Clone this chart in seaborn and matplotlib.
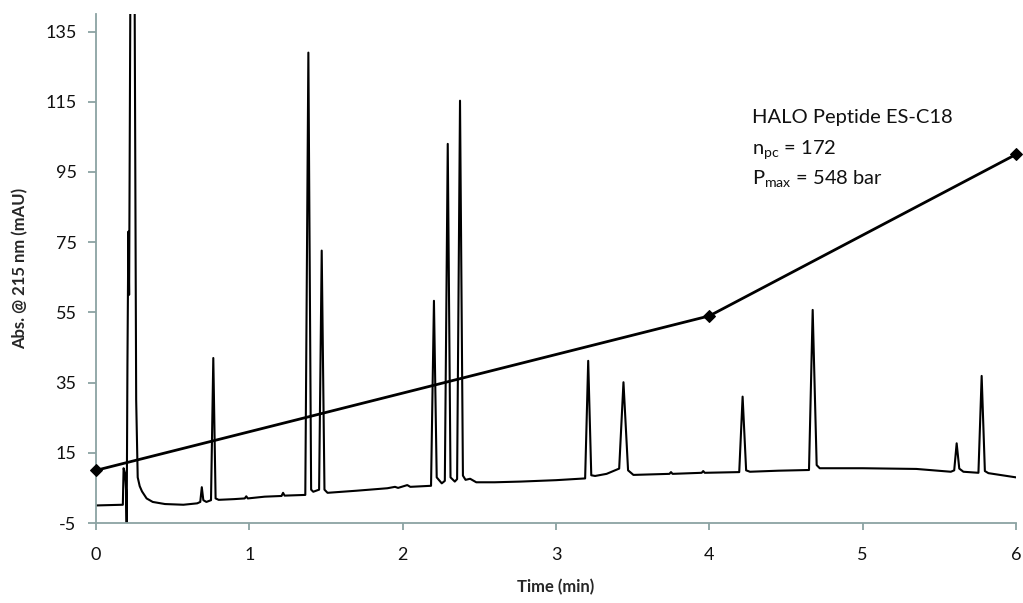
import matplotlib
matplotlib.use("Agg")
import matplotlib.pyplot as plt
import seaborn as sns
import pandas as pd

# ---- chromatogram trace (time in min, absorbance in mAU) ----
trace_time = [
    0.000, 0.175, 0.180, 0.190, 0.196, 0.200, 0.205, 0.211, 0.216, 0.224,
    0.252, 0.262, 0.272, 0.285, 0.300, 0.330, 0.370, 0.450, 0.570, 0.660,
    0.680, 0.690, 0.700, 0.720, 0.750, 0.765, 0.780, 0.800, 0.900, 0.970,
    0.980, 0.990, 1.100, 1.210, 1.220, 1.230, 1.365, 1.385, 1.403, 1.417,
    1.455, 1.472, 1.490, 1.510, 1.700, 1.900, 1.950, 1.970, 2.030, 2.050,
    2.185, 2.204, 2.222, 2.255, 2.275, 2.294, 2.312, 2.340, 2.355, 2.374,
    2.393, 2.410, 2.440, 2.480, 2.600, 2.770, 3.000, 3.190, 3.210, 3.230,
    3.255, 3.330, 3.412, 3.440, 3.470, 3.505, 3.740, 3.750, 3.760, 3.950,
    3.960, 3.970, 4.195, 4.217, 4.240, 4.265, 4.450, 4.650, 4.674, 4.700,
    4.720, 5.000, 5.350, 5.575, 5.597, 5.613, 5.630, 5.657, 5.755, 5.776,
    5.797, 5.820, 6.000,
]
trace_abs = [
    0.0, 0.2, 10.6, 9.0, 4.4, -5.0, 40.0, 78.0, 60.0, 145.0,
    145.0, 30.0, 8.0, 5.5, 4.0, 2.0, 1.0, 0.4, 0.2, 0.6,
    1.0, 5.2, 1.5, 1.0, 1.5, 42.0, 2.0, 1.6, 1.8, 2.0,
    2.6, 2.0, 2.5, 2.7, 3.6, 2.8, 3.0, 129.0, 4.5, 3.9,
    4.5, 72.6, 4.5, 3.6, 4.2, 4.9, 5.3, 5.0, 5.8, 5.3,
    5.6, 58.3, 8.0, 6.3, 7.0, 103.0, 8.0, 6.8, 7.5, 115.3,
    8.5, 7.3, 7.6, 6.6, 6.6, 6.8, 7.2, 7.7, 41.2, 8.6,
    8.4, 9.0, 10.5, 35.1, 10.0, 8.7, 9.0, 9.5, 9.0, 9.3,
    9.8, 9.3, 9.5, 31.0, 10.0, 9.6, 9.9, 10.1, 55.7, 11.5,
    10.6, 10.6, 10.4, 9.6, 10.0, 17.7, 10.5, 9.6, 9.3, 36.9,
    9.8, 9.2, 8.0,
]

# ---- gradient / pressure line ----
grad_time = [0, 4, 6]
grad_value = [10, 54, 100]

# ---- axis ticks ----
x_ticks = [0, 1, 2, 3, 4, 5, 6]
y_ticks = [-5, 15, 35, 55, 75, 95, 115, 135]

annotation_lines = ["HALO Peptide ES-C18", r"n$\mathregular{_{pc}}$ = 172",
                    r"P$\mathregular{_{max}}$ = 548 bar"]

sns.set_style("ticks")
plt.rcParams["font.family"] = ["Lato", "DejaVu Sans"]
plt.rcParams["mathtext.fontset"] = "custom"
plt.rcParams["mathtext.rm"] = "Lato"

fig = plt.figure(figsize=(10.23, 6.03), dpi=100)
ax = fig.add_axes([96 / 1023, 1 - 523 / 603, 920 / 1023, 509 / 603])

df_trace = pd.DataFrame({"time": trace_time, "abs": trace_abs})
df_grad = pd.DataFrame({"time": grad_time, "value": grad_value})

sns.lineplot(data=df_trace, x="time", y="abs", ax=ax, color="black",
             linewidth=1.5, sort=False, estimator=None)
sns.lineplot(data=df_grad, x="time", y="value", ax=ax, color="black",
             linewidth=2.0, marker="D", markersize=6.5, markeredgecolor="black",
             sort=False, estimator=None, clip_on=False, zorder=5)

ax.set_xlim(0, 6)
ax.set_ylim(-5, 140)
ax.set_xticks(x_ticks)
ax.set_yticks(y_ticks)
ax.set_xticklabels([str(v) for v in x_ticks])
ax.set_yticklabels([str(v) for v in y_ticks])

spine_col = "#8BA3A3"
for s in ["top", "right"]:
    ax.spines[s].set_visible(False)
for s in ["left", "bottom"]:
    ax.spines[s].set_color(spine_col)
    ax.spines[s].set_linewidth(1.3)
ax.tick_params(axis="x", direction="out", length=5, width=1.3, color=spine_col,
               pad=12, labelsize=13, labelcolor="#111111")
ax.tick_params(axis="y", direction="out", length=6, width=1.3, color=spine_col,
               pad=8, labelsize=13, labelcolor="#111111")

ax.set_xlabel("Time (min)", fontsize=12, fontweight="bold", labelpad=12)
ax.set_ylabel("Abs. @ 215 nm (mAU)", fontsize=12, fontweight="bold", labelpad=12)

y0 = 113
for i, line in enumerate(annotation_lines):
    ax.text(4.28, y0 - i * 8.4, line, fontsize=14.5, va="top", ha="left", color="#111111")

fig.savefig("out.png", dpi=100)
